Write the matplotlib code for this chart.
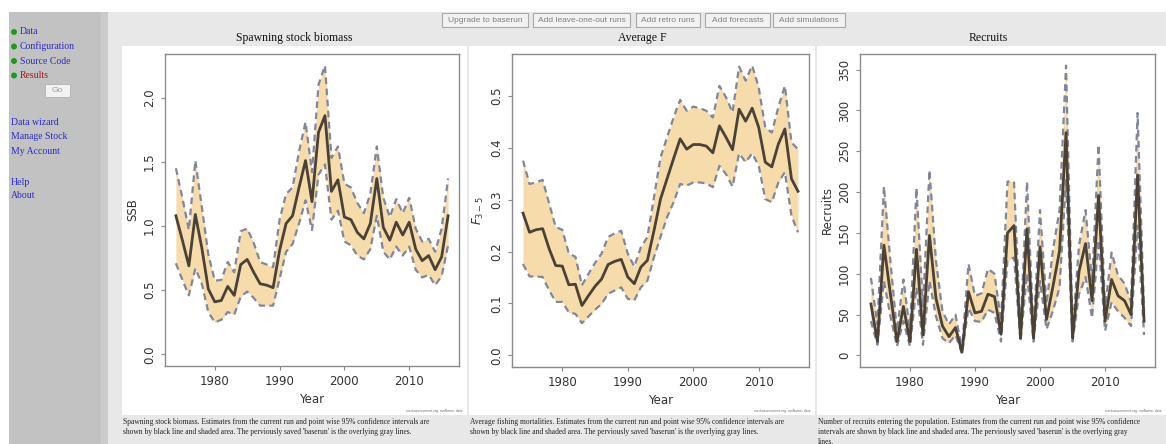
import matplotlib
matplotlib.use('Agg')
import matplotlib.pyplot as plt
from matplotlib.patches import Rectangle, Ellipse

# ---------------- data ----------------
years = list(range(1974, 2017))

ssb = [1.08, 0.89, 0.69, 1.09, 0.83, 0.51, 0.41, 0.42, 0.53, 0.46,
       0.70, 0.74, 0.64, 0.55, 0.54, 0.52, 0.81, 1.02, 1.08, 1.30,
       1.51, 1.19, 1.73, 1.86, 1.27, 1.36, 1.07, 1.05, 0.95, 0.90,
       1.02, 1.37, 0.99, 0.89, 1.03, 0.93, 1.03, 0.82, 0.73, 0.77,
       0.66, 0.76, 1.08]
ssb_hi = [1.45, 1.22, 0.97, 1.51, 1.15, 0.78, 0.575, 0.58, 0.72, 0.64,
          0.96, 0.98, 0.87, 0.72, 0.70, 0.68, 1.05, 1.25, 1.30, 1.58,
          1.81, 1.42, 2.10, 2.25, 1.53, 1.62, 1.33, 1.30, 1.18, 1.10,
          1.25, 1.62, 1.22, 1.07, 1.21, 1.10, 1.22, 0.98, 0.88, 0.90,
          0.80, 0.98, 1.37]
ssb_lo = [0.71, 0.58, 0.46, 0.67, 0.55, 0.33, 0.25, 0.27, 0.33, 0.31,
          0.45, 0.49, 0.44, 0.38, 0.38, 0.38, 0.59, 0.80, 0.86, 1.02,
          1.20, 0.97, 1.40, 1.48, 1.05, 1.12, 0.88, 0.85, 0.77, 0.74,
          0.82, 1.08, 0.80, 0.74, 0.84, 0.77, 0.84, 0.66, 0.60, 0.62,
          0.54, 0.61, 0.85]

fbar = [0.274, 0.237, 0.242, 0.244, 0.205, 0.173, 0.172, 0.136, 0.137, 0.096,
        0.115, 0.133, 0.147, 0.175, 0.181, 0.185, 0.151, 0.138, 0.170, 0.183,
        0.240, 0.301, 0.340, 0.379, 0.417, 0.397, 0.406, 0.406, 0.403, 0.390,
        0.442, 0.420, 0.396, 0.474, 0.451, 0.476, 0.439, 0.372, 0.363, 0.407,
        0.436, 0.340, 0.316]
fbar_hi = [0.375, 0.330, 0.333, 0.338, 0.292, 0.247, 0.242, 0.196, 0.190, 0.135,
           0.157, 0.178, 0.196, 0.228, 0.235, 0.240, 0.196, 0.171, 0.208, 0.228,
           0.304, 0.381, 0.420, 0.458, 0.492, 0.471, 0.479, 0.476, 0.471, 0.458,
           0.519, 0.497, 0.468, 0.556, 0.529, 0.558, 0.516, 0.439, 0.429, 0.478,
           0.519, 0.410, 0.397]
fbar_lo = [0.176, 0.152, 0.152, 0.151, 0.125, 0.103, 0.103, 0.083, 0.080, 0.062,
           0.075, 0.088, 0.099, 0.119, 0.125, 0.131, 0.109, 0.106, 0.131, 0.144,
           0.189, 0.228, 0.266, 0.295, 0.330, 0.327, 0.333, 0.333, 0.331, 0.324,
           0.365, 0.349, 0.325, 0.389, 0.372, 0.389, 0.365, 0.301, 0.295, 0.333,
           0.353, 0.269, 0.237]

rec = [63, 17, 135, 75, 17, 60, 17, 130, 25, 147,
       70, 36, 23, 34, 4, 78, 52, 54, 75, 72,
       26, 150, 159, 21, 155, 21, 133, 44, 85, 128,
       273, 21, 103, 137, 67, 196, 42, 93, 73, 67,
       50, 221, 42]
rec_hi = [95, 38, 207, 115, 30, 93, 30, 205, 60, 227,
          116, 54, 38, 50, 7, 112, 73, 76, 106, 100,
          42, 213, 213, 30, 213, 30, 178, 63, 130, 178,
          355, 30, 135, 178, 91, 258, 58, 126, 98, 88,
          65, 297, 54]
rec_lo = [42, 13, 91, 48, 11, 42, 11, 83, 13, 91,
          48, 21, 15, 25, 2, 58, 42, 41, 56, 52,
          17, 116, 120, 17, 100, 17, 91, 32, 55, 83,
          215, 17, 75, 96, 46, 141, 30, 65, 54, 46,
          36, 159, 25]

titles = ["Spawning stock biomass", "Average F", "Recruits"]
ylabels = ["SSB", r"$F_{3-5}$", "Recruits"]
xticks = [1980, 1990, 2000, 2010]
yticks_ssb = [0.0, 0.5, 1.0, 1.5, 2.0]
yticks_f = [0.0, 0.1, 0.2, 0.3, 0.4, 0.5]
yticks_rec = [0, 50, 100, 150, 200, 250, 300, 350]
buttons = ["Upgrade to baserun", "Add leave-one-out runs", "Add retro runs",
           "Add forecasts", "Add simulations"]
menu_status = ["Data", "Configuration", "Source Code", "Results"]
menu_links = ["Data wizard", "Manage Stock", "My Account"]
menu_help = ["Help", "About"]
captions = [
    ["Spawning stock biomass. Estimates from the current run and point wise 95% confidence intervals are",
     "shown by black line and shaded area. The perviously saved 'baserun' is the overlying gray lines."],
    ["Average fishing mortalities. Estimates from the current run and point wise 95% confidence intervals are",
     "shown by black line and shaded area. The perviously saved 'baserun' is the overlying gray lines."],
    ["Number of recruits entering the population. Estimates from the current run and point wise 95% confidence",
     "intervals are shown by black line and shaded area. The perviously saved 'baserun' is the overlying gray",
     "lines."],
]

# ---------------- figure ----------------
W, H = 1166, 444
fig = plt.figure(figsize=(W / 100, H / 100), dpi=100)
fig.patch.set_facecolor('white')
SERIF = ['Liberation Serif', 'DejaVu Serif']
SANS = ['Liberation Sans', 'DejaVu Sans']


def fx(x):
    return x / W


def fy(y):
    return 1 - y / H


def rect(x0, y0, x1, y1, fc, ec='none', lw=0.0, z=0):
    fig.patches.append(Rectangle((fx(x0), fy(y1)), (x1 - x0) / W, (y1 - y0) / H,
                                 transform=fig.transFigure, facecolor=fc,
                                 edgecolor=ec, linewidth=lw, zorder=z))


# page backgrounds
rect(108, 12, W, H, '#e8e8e8')
rect(9, 12, 108, H, '#c2c2c2')
rect(101, 12, 108, H, '#cbcbcb')
panels_px = [(122, 46, 467, 415), (469, 46, 815, 415), (817, 46, W, 415)]
for (x0, y0, x1, y1) in panels_px:
    rect(x0, y0, x1, y1, 'white')

# buttons
btn_x = [(442, 528), (533, 630), (636, 700), (705, 770), (773, 845)]
for (x0, x1), lab in zip(btn_x, buttons):
    rect(x0, 13, x1, 27, '#f2f2f2', ec='#a8a8a8', lw=0.8, z=1)
    fig.text(fx((x0 + x1) / 2), fy(20.5), lab, ha='center', va='center',
             fontsize=6, color='#808080', family=SANS)

# sidebar
for i, lab in enumerate(menu_status):
    yy = 32 + i * 14.5
    fig.patches.append(Ellipse((fx(14), fy(yy)), 6 / W, 6 / H, transform=fig.transFigure,
                               facecolor='#1f9a1f', edgecolor='none', zorder=2))
    fig.text(fx(19.5), fy(yy), lab, ha='left', va='center', fontsize=7,
             color='#a01818' if lab == "Results" else '#2b2bc4', family=SERIF)
rect(45, 84, 70, 97, '#f2f2f2', ec='#b0b0b0', lw=0.6, z=1)
fig.text(fx(57.5), fy(90.5), "Go", ha='center', va='center', fontsize=6,
         color='#999999', family=SANS)
for i, lab in enumerate(menu_links):
    fig.text(fx(11), fy(122 + i * 14.5), lab, ha='left', va='center', fontsize=7,
             color='#2b2bc4', family=SERIF)
for i, lab in enumerate(menu_help):
    fig.text(fx(11), fy(182 + i * 13.5), lab, ha='left', va='center', fontsize=7,
             color='#2b2bc4', family=SERIF)

# titles and captions
title_x = [294.5, 642, 988]
cap_x = [123, 470, 818]
for tx, t in zip(title_x, titles):
    fig.text(fx(tx), fy(38), t, ha='center', va='center', fontsize=8.5,
             color='#111111', family=SERIF)
for cx, lines in zip(cap_x, captions):
    for j, line in enumerate(lines):
        fig.text(fx(cx), fy(422 + j * 9.8), line, ha='left', va='center',
                 fontsize=5.45, color='#222222', family=SERIF)

# ---------------- plots ----------------
BAND = '#f7dcab'
DASH = '#80879a'
EST = '#4a4236'
axes_px = [(165, 54, 459, 366), (512, 54, 809, 367), (860, 54, 1155, 367)]
series = [(ssb, ssb_lo, ssb_hi, yticks_ssb, "{:.1f}"),
          (fbar, fbar_lo, fbar_hi, yticks_f, "{:.1f}"),
          (rec, rec_lo, rec_hi, yticks_rec, "{:d}")]

for (l, t, r, b), (est, lo, hi, yt, fmt), yl, (px0, py0, px1, py1) in zip(
        axes_px, series, ylabels, panels_px):
    ax = fig.add_axes([fx(l), fy(b), (r - l) / W, (b - t) / H])
    ax.set_zorder(10)
    ax.fill_between(years, lo, hi, color=BAND, lw=0, zorder=1)
    ax.plot(years, lo, color=DASH, lw=1.6, ls=(0, (3, 2)), zorder=2)
    ax.plot(years, hi, color=DASH, lw=1.6, ls=(0, (3, 2)), zorder=2)
    ax.plot(years, est, color=EST, lw=2.0, zorder=3)
    span = years[-1] - years[0]
    ax.set_xlim(years[0] - 0.04 * span, years[-1] + 0.04 * span)
    top = max(hi)
    ax.set_ylim(-0.04 * top, 1.04 * top)
    ax.set_xticks(xticks)
    ax.set_xticklabels([str(v) for v in xticks])
    ax.set_yticks(yt)
    ax.set_yticklabels([fmt.format(v) for v in yt], rotation=90, va='center')
    for s in ax.spines.values():
        s.set_color('#8a8a8a')
        s.set_linewidth(1.0)
    ax.tick_params(direction='out', length=3, width=0.8, color='#888888',
                   labelcolor='#333333', labelsize=8.5)
    ax.tick_params(axis='x', pad=3.5)
    ax.tick_params(axis='y', pad=3.5)
    ax.set_xlabel("Year", fontsize=8.5, color='#333333', labelpad=3.5)
    ax.set_ylabel(yl, fontsize=8.5, color='#333333', labelpad=3)
    fig.text(fx(px1 - 4), fy(411), "stockassessment.org, runName, date",
             ha='right', va='center', fontsize=2.2, color='#666666')

fig.savefig('out.png', dpi=100, facecolor=fig.get_facecolor())
